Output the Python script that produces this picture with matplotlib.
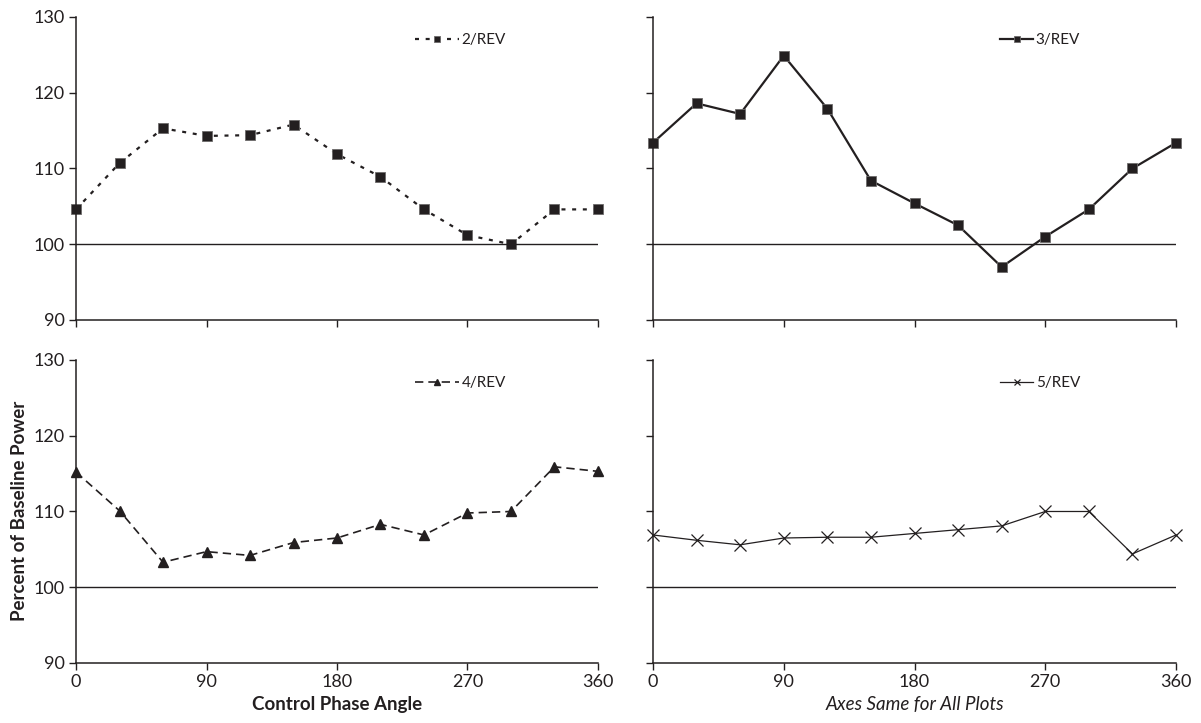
import matplotlib.pyplot as plt
import numpy as np

plt.rcParams['font.family'] = ['Lato', 'DejaVu Sans']

ink = '#231f20'

# control phase angle, deg
phase = [0, 30, 60, 90, 120, 150, 180, 210, 240, 270, 300, 330, 360]

# percent of baseline power for each harmonic
rev2 = [104.6, 110.7, 115.3, 114.3, 114.4, 115.8, 111.9, 108.9, 104.6, 101.2, 100.0, 104.6, 104.6]
rev3 = [113.4, 118.6, 117.2, 124.9, 117.9, 108.4, 105.4, 102.5, 97.0, 101.0, 104.6, 110.0, 113.4]
rev4 = [115.2, 110.1, 103.3, 104.7, 104.2, 105.9, 106.5, 108.3, 106.9, 109.8, 110.0, 115.9, 115.3]
rev5 = [106.9, 106.2, 105.6, 106.5, 106.6, 106.6, 107.1, 107.6, 108.1, 110.0, 110.0, 104.4, 106.9]

xticks = [0, 90, 180, 270, 360]
yticks = [90, 100, 110, 120, 130]

fig = plt.figure(figsize=(12.01, 7.23), dpi=100)

# axes boxes in figure fractions
boxes = {
    'tl': [0.0633, 0.5574, 0.4346, 0.4191],
    'tr': [0.5437, 0.5574, 0.4355, 0.4191],
    'bl': [0.0633, 0.0830, 0.4346, 0.4191],
    'br': [0.5437, 0.0830, 0.4355, 0.4191],
}

series = [
    ('tl', rev2, '2/REV', dict(ls=(0, (1.8, 3.0)), lw=1.6, marker='s', ms=6.5, mec='#6d6b6b', mew=0.6), 2.9),
    ('tr', rev3, '3/REV', dict(ls='-', lw=1.6, marker='s', ms=6.5, mec='#6d6b6b', mew=0.6), 2.2),
    ('bl', rev4, '4/REV', dict(ls=(0, (5, 3)), lw=1.2, marker='^', ms=6.5), 2.9),
    ('br', rev5, '5/REV', dict(ls='-', lw=0.9, marker='x', ms=8, mew=0.9), 2.2),
]

for key, vals, name, style, hlen in series:
    ax = fig.add_axes(boxes[key])
    ax.plot(phase, vals, color=ink, label=name, clip_on=False, **style)
    ax.axhline(100, color=ink, lw=1.0)
    ax.set_xlim(0, 360)
    ax.set_ylim(90, 130)
    ax.set_xticks(xticks)
    ax.set_yticks(yticks)
    for s in ['top', 'right']:
        ax.spines[s].set_visible(False)
    for s in ['left', 'bottom']:
        ax.spines[s].set_color(ink)
        ax.spines[s].set_linewidth(1.1)
    ax.tick_params(length=5, width=1.0, color=ink, labelcolor=ink, labelsize=13, pad=3)
    if key in ('tl', 'tr'):
        ax.tick_params(labelbottom=False)
    if key in ('tr', 'br'):
        ax.tick_params(labelleft=False)
    xa = 0.649 if key in ('tl', 'bl') else 0.663
    leg = ax.legend(loc='center left', bbox_to_anchor=(xa, 0.924), frameon=False,
                    fontsize=11, handlelength=hlen, handletextpad=0.15,
                    borderpad=0, borderaxespad=0, markerscale=0.6)
    for t in leg.get_texts():
        t.set_color(ink)
    if key == 'bl':
        ax.set_xlabel('Control Phase Angle', fontsize=13.5, fontweight='bold', color=ink, labelpad=4)
    if key == 'br':
        ax.set_xlabel('Axes Same for All Plots', fontsize=13.5, style='italic', color=ink, labelpad=4)

fig.text(0.016, 0.293, 'Percent of Baseline Power', rotation=90, ha='center', va='center',
         fontsize=13.5, fontweight='bold', color=ink)

fig.savefig('out.png', dpi=100)
